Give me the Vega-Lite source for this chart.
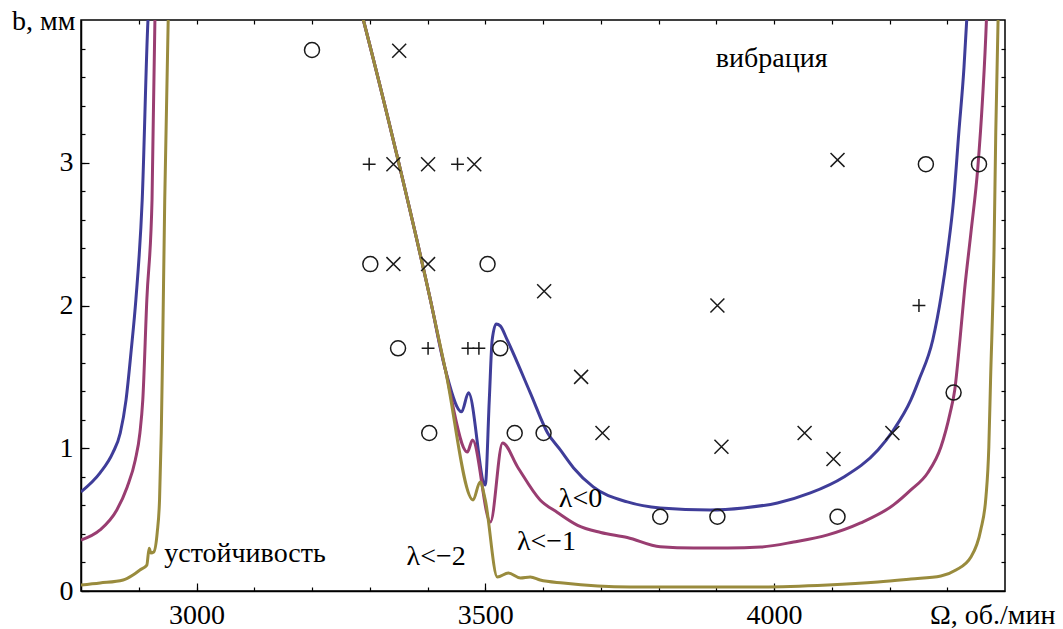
{
  "$schema": "https://vega.github.io/schema/vega-lite/v6.json",
  "width": 924,
  "height": 571,
  "autosize": {"type": "none"},
  "padding": {"left": 81, "top": 20, "right": 58, "bottom": 38},
  "background": "white",
  "config": {
    "view": {"stroke": "black", "strokeWidth": 1.5},
    "font": "Liberation Serif",
    "axis": {
      "grid": false,
      "domainColor": "black",
      "domainWidth": 1.5,
      "tickColor": "black",
      "tickWidth": 1.2,
      "labelColor": "black",
      "titleColor": "black",
      "labelFont": "Liberation Serif",
      "titleFont": "Liberation Serif",
      "labelFontSize": 28,
      "titleFontSize": 28,
      "titleFontWeight": "normal",
      "labelOverlap": false,
      "labelFlush": false
    }
  },
  "datasets": {
    "curves": [
      {"s": "b", "g": "bL", "x": 2800, "y": 0.694},
      {"s": "b", "g": "bL", "x": 2833, "y": 0.827},
      {"s": "b", "g": "bL", "x": 2855, "y": 0.967},
      {"s": "b", "g": "bL", "x": 2868, "y": 1.107},
      {"s": "b", "g": "bL", "x": 2878, "y": 1.339},
      {"s": "b", "g": "bL", "x": 2887, "y": 1.689},
      {"s": "b", "g": "bL", "x": 2895, "y": 2.04},
      {"s": "b", "g": "bL", "x": 2906, "y": 2.741},
      {"s": "b", "g": "bL", "x": 2916, "y": 4.0},
      {"s": "b", "g": "bL", "x": 2918, "y": 4.14},

      {"s": "b", "g": "bM", "x": 3280, "y": 4.14},
      {"s": "b", "g": "bM", "x": 3289, "y": 4.0},
      {"s": "b", "g": "bM", "x": 3349, "y": 3.02},
      {"s": "b", "g": "bM", "x": 3405, "y": 2.04},
      {"s": "b", "g": "bM", "x": 3431, "y": 1.549},
      {"s": "b", "g": "bM", "x": 3459, "y": 1.255},
      {"s": "b", "g": "bM", "x": 3471, "y": 1.388},
      {"s": "b", "g": "bM", "x": 3500, "y": 0.743},
      {"s": "b", "g": "bM", "x": 3507, "y": 1.339},
      {"s": "b", "g": "bM", "x": 3512, "y": 1.759},
      {"s": "b", "g": "bM", "x": 3519, "y": 1.871},
      {"s": "b", "g": "bM", "x": 3526, "y": 1.857},
      {"s": "b", "g": "bM", "x": 3538, "y": 1.759},
      {"s": "b", "g": "bM", "x": 3578, "y": 1.388},
      {"s": "b", "g": "bM", "x": 3608, "y": 1.107},
      {"s": "b", "g": "bM", "x": 3630, "y": 0.988},
      {"s": "b", "g": "bM", "x": 3653, "y": 0.862},
      {"s": "b", "g": "bM", "x": 3687, "y": 0.729},
      {"s": "b", "g": "bM", "x": 3746, "y": 0.624},
      {"s": "b", "g": "bM", "x": 3803, "y": 0.582},
      {"s": "b", "g": "bM", "x": 3890, "y": 0.568},
      {"s": "b", "g": "bM", "x": 3947, "y": 0.582},
      {"s": "b", "g": "bM", "x": 4006, "y": 0.617},
      {"s": "b", "g": "bM", "x": 4063, "y": 0.687},
      {"s": "b", "g": "bM", "x": 4121, "y": 0.799},
      {"s": "b", "g": "bM", "x": 4180, "y": 0.988},
      {"s": "b", "g": "bM", "x": 4207, "y": 1.128},
      {"s": "b", "g": "bM", "x": 4237, "y": 1.339},
      {"s": "b", "g": "bM", "x": 4251, "y": 1.479},
      {"s": "b", "g": "bM", "x": 4275, "y": 1.76},
      {"s": "b", "g": "bM", "x": 4290, "y": 2.08},
      {"s": "b", "g": "bM", "x": 4301, "y": 2.39},
      {"s": "b", "g": "bM", "x": 4311, "y": 2.74},
      {"s": "b", "g": "bM", "x": 4320, "y": 3.21},
      {"s": "b", "g": "bM", "x": 4329, "y": 3.67},
      {"s": "b", "g": "bM", "x": 4334, "y": 4.02},
      {"s": "b", "g": "bM", "x": 4336, "y": 4.14},

      {"s": "m", "g": "mL", "x": 2800, "y": 0.357},
      {"s": "m", "g": "mL", "x": 2833, "y": 0.428},
      {"s": "m", "g": "mL", "x": 2862, "y": 0.568},
      {"s": "m", "g": "mL", "x": 2880, "y": 0.729},
      {"s": "m", "g": "mL", "x": 2894, "y": 0.918},
      {"s": "m", "g": "mL", "x": 2902, "y": 1.107},
      {"s": "m", "g": "mL", "x": 2907, "y": 1.339},
      {"s": "m", "g": "mL", "x": 2914, "y": 2.04},
      {"s": "m", "g": "mL", "x": 2923, "y": 2.741},
      {"s": "m", "g": "mL", "x": 2928, "y": 4.0},
      {"s": "m", "g": "mL", "x": 2930, "y": 4.14},

      {"s": "m", "g": "mM", "x": 3280, "y": 4.14},
      {"s": "m", "g": "mM", "x": 3289, "y": 4.0},
      {"s": "m", "g": "mM", "x": 3349, "y": 3.02},
      {"s": "m", "g": "mM", "x": 3405, "y": 2.04},
      {"s": "m", "g": "mM", "x": 3431, "y": 1.549},
      {"s": "m", "g": "mM", "x": 3469, "y": 0.974},
      {"s": "m", "g": "mM", "x": 3478, "y": 1.058},
      {"s": "m", "g": "mM", "x": 3509, "y": 0.484},
      {"s": "m", "g": "mM", "x": 3530, "y": 1.037},
      {"s": "m", "g": "mM", "x": 3556, "y": 0.869},
      {"s": "m", "g": "mM", "x": 3595, "y": 0.638},
      {"s": "m", "g": "mM", "x": 3625, "y": 0.55},
      {"s": "m", "g": "mM", "x": 3660, "y": 0.46},
      {"s": "m", "g": "mM", "x": 3700, "y": 0.41},
      {"s": "m", "g": "mM", "x": 3746, "y": 0.375},
      {"s": "m", "g": "mM", "x": 3803, "y": 0.31},
      {"s": "m", "g": "mM", "x": 3861, "y": 0.301},
      {"s": "m", "g": "mM", "x": 3920, "y": 0.301},
      {"s": "m", "g": "mM", "x": 3977, "y": 0.308},
      {"s": "m", "g": "mM", "x": 4034, "y": 0.343},
      {"s": "m", "g": "mM", "x": 4093, "y": 0.393},
      {"s": "m", "g": "mM", "x": 4150, "y": 0.477},
      {"s": "m", "g": "mM", "x": 4207, "y": 0.603},
      {"s": "m", "g": "mM", "x": 4237, "y": 0.708},
      {"s": "m", "g": "mM", "x": 4266, "y": 0.827},
      {"s": "m", "g": "mM", "x": 4289, "y": 1.009},
      {"s": "m", "g": "mM", "x": 4305, "y": 1.248},
      {"s": "m", "g": "mM", "x": 4313, "y": 1.409},
      {"s": "m", "g": "mM", "x": 4322, "y": 1.76},
      {"s": "m", "g": "mM", "x": 4330, "y": 2.11},
      {"s": "m", "g": "mM", "x": 4341, "y": 2.51},
      {"s": "m", "g": "mM", "x": 4353, "y": 2.97},
      {"s": "m", "g": "mM", "x": 4361, "y": 3.44},
      {"s": "m", "g": "mM", "x": 4368, "y": 4.02},
      {"s": "m", "g": "mM", "x": 4369, "y": 4.14},

      {"s": "o", "g": "oL", "x": 2800, "y": 0.042},
      {"s": "o", "g": "oL", "x": 2833, "y": 0.056},
      {"s": "o", "g": "oL", "x": 2873, "y": 0.077},
      {"s": "o", "g": "oL", "x": 2890, "y": 0.112},
      {"s": "o", "g": "oL", "x": 2902, "y": 0.147},
      {"s": "o", "g": "oL", "x": 2914, "y": 0.182},
      {"s": "o", "g": "oL", "x": 2918, "y": 0.3},
      {"s": "o", "g": "oL", "x": 2921, "y": 0.266},
      {"s": "o", "g": "oL", "x": 2926, "y": 0.273},
      {"s": "o", "g": "oL", "x": 2932, "y": 0.41},
      {"s": "o", "g": "oL", "x": 2936, "y": 0.64},
      {"s": "o", "g": "oL", "x": 2939, "y": 1.107},
      {"s": "o", "g": "oL", "x": 2941, "y": 1.6},
      {"s": "o", "g": "oL", "x": 2945, "y": 2.74},
      {"s": "o", "g": "oL", "x": 2951, "y": 4.0},
      {"s": "o", "g": "oL", "x": 2952, "y": 4.14},

      {"s": "o", "g": "oM", "x": 3280, "y": 4.14},
      {"s": "o", "g": "oM", "x": 3289, "y": 4.0},
      {"s": "o", "g": "oM", "x": 3349, "y": 3.02},
      {"s": "o", "g": "oM", "x": 3405, "y": 2.04},
      {"s": "o", "g": "oM", "x": 3431, "y": 1.549},
      {"s": "o", "g": "oM", "x": 3479, "y": 0.638},
      {"s": "o", "g": "oM", "x": 3491, "y": 0.764},
      {"s": "o", "g": "oM", "x": 3500, "y": 0.638},
      {"s": "o", "g": "oM", "x": 3521, "y": 0.098},
      {"s": "o", "g": "oM", "x": 3540, "y": 0.126},
      {"s": "o", "g": "oM", "x": 3561, "y": 0.091},
      {"s": "o", "g": "oM", "x": 3578, "y": 0.098},
      {"s": "o", "g": "oM", "x": 3595, "y": 0.077},
      {"s": "o", "g": "oM", "x": 3635, "y": 0.056},
      {"s": "o", "g": "oM", "x": 3751, "y": 0.028},
      {"s": "o", "g": "oM", "x": 3861, "y": 0.028},
      {"s": "o", "g": "oM", "x": 3977, "y": 0.028},
      {"s": "o", "g": "oM", "x": 4093, "y": 0.042},
      {"s": "o", "g": "oM", "x": 4180, "y": 0.063},
      {"s": "o", "g": "oM", "x": 4237, "y": 0.084},
      {"s": "o", "g": "oM", "x": 4289, "y": 0.105},
      {"s": "o", "g": "oM", "x": 4315, "y": 0.147},
      {"s": "o", "g": "oM", "x": 4341, "y": 0.238},
      {"s": "o", "g": "oM", "x": 4358, "y": 0.428},
      {"s": "o", "g": "oM", "x": 4367, "y": 0.659},
      {"s": "o", "g": "oM", "x": 4372, "y": 1.009},
      {"s": "o", "g": "oM", "x": 4375, "y": 1.479},
      {"s": "o", "g": "oM", "x": 4381, "y": 2.39},
      {"s": "o", "g": "oM", "x": 4384, "y": 3.21},
      {"s": "o", "g": "oM", "x": 4388, "y": 4.0},
      {"s": "o", "g": "oM", "x": 4389, "y": 4.14}
    ],
    "points": [
      {"m": "o", "x": 3200, "y": 3.79},
      {"m": "o", "x": 3301, "y": 2.29},
      {"m": "o", "x": 3504, "y": 2.29},
      {"m": "o", "x": 3349, "y": 1.7},
      {"m": "o", "x": 3526, "y": 1.7},
      {"m": "o", "x": 3403, "y": 1.107},
      {"m": "o", "x": 3551, "y": 1.107},
      {"m": "o", "x": 3601, "y": 1.107},
      {"m": "o", "x": 3803, "y": 0.52},
      {"m": "o", "x": 3902, "y": 0.52},
      {"m": "o", "x": 4110, "y": 0.52},
      {"m": "o", "x": 4263, "y": 2.99},
      {"m": "o", "x": 4355, "y": 2.99},
      {"m": "o", "x": 4311, "y": 1.39},
      {"m": "x", "x": 3351, "y": 3.785},
      {"m": "x", "x": 3341, "y": 2.99},
      {"m": "x", "x": 3401, "y": 2.99},
      {"m": "x", "x": 3481, "y": 2.99},
      {"m": "x", "x": 3341, "y": 2.29},
      {"m": "x", "x": 3401, "y": 2.29},
      {"m": "x", "x": 3602, "y": 2.1},
      {"m": "x", "x": 3666, "y": 1.5},
      {"m": "x", "x": 3703, "y": 1.107},
      {"m": "x", "x": 3902, "y": 2.0},
      {"m": "x", "x": 3909, "y": 1.01},
      {"m": "x", "x": 4053, "y": 1.107},
      {"m": "x", "x": 4103, "y": 0.925},
      {"m": "x", "x": 4205, "y": 1.107},
      {"m": "x", "x": 4110, "y": 3.02},
      {"m": "p", "x": 3299, "y": 2.99},
      {"m": "p", "x": 3452, "y": 2.99},
      {"m": "p", "x": 3401, "y": 1.7},
      {"m": "p", "x": 3470, "y": 1.7},
      {"m": "p", "x": 3489, "y": 1.7},
      {"m": "p", "x": 4251, "y": 2.0}
    ],
    "labels": [
      {"t": "вибрация", "x": 3996, "y": 3.673},
      {"t": "устойчивость", "x": 3084, "y": 0.203},
      {"t": "λ<−2", "x": 3415, "y": 0.182},
      {"t": "λ<−1", "x": 3606, "y": 0.287},
      {"t": "λ<0", "x": 3665, "y": 0.589}
    ]
  },
  "layer": [
    {
      "data": {"name": "curves"},
      "mark": {"type": "line", "strokeWidth": 3, "clip": true, "interpolate": "monotone"},
      "encoding": {
        "x": {
          "field": "x", "type": "quantitative",
          "scale": {"domain": [2800, 4400], "nice": false, "zero": false},
          "axis": {
            "orient": "bottom", "values": [3000, 3500, 4000], "format": "d",
            "tickSize": -8, "labelPadding": 40, "labelBaseline": "alphabetic",
            "labelFont": "Liberation Serif", "titleFont": "Liberation Serif",
            "title": "Ω, об./мин", "titleX": 974, "titleY": 32,
            "titleAlign": "right", "titleBaseline": "alphabetic"
          }
        },
        "y": {
          "field": "y", "type": "quantitative",
          "scale": {"domain": [0, 4], "nice": false, "zero": false},
          "axis": {
            "orient": "left", "values": [0, 1, 2, 3], "format": "d",
            "tickSize": -8, "labelPadding": 16,
            "labelFont": "Liberation Serif", "titleFont": "Liberation Serif",
            "title": "b, мм", "titleAngle": 0, "titleX": -6, "titleY": 9,
            "titleAlign": "right", "titleBaseline": "alphabetic"
          }
        },
        "color": {
          "field": "s", "type": "nominal",
          "scale": {"domain": ["b", "m", "o"], "range": ["#3f3d99", "#993d71", "#998b3d"]},
          "legend": null
        },
        "detail": {"field": "g"}
      }
    },
    {
      "data": {"name": "points"},
      "mark": {"type": "point", "filled": false, "strokeWidth": 1.5, "color": "#1a1a1a", "opacity": 1},
      "encoding": {
        "x": {
          "field": "x", "type": "quantitative",
          "scale": {"domain": [2800, 4400], "nice": false, "zero": false},
          "axis": {
            "orient": "bottom",
            "values": [2900, 3000, 3100, 3200, 3300, 3400, 3500, 3600, 3700, 3800, 3900, 4000, 4100, 4200, 4300],
            "tickSize": -4, "labels": false, "domain": false, "title": null
          }
        },
        "y": {
          "field": "y", "type": "quantitative",
          "scale": {"domain": [0, 4], "nice": false, "zero": false},
          "axis": {
            "orient": "left",
            "values": [0.2, 0.4, 0.6, 0.8, 1, 1.2, 1.4, 1.6, 1.8, 2, 2.2, 2.4, 2.6, 2.8, 3, 3.2, 3.4, 3.6, 3.8],
            "tickSize": -4, "labels": false, "domain": false, "title": null
          }
        },
        "shape": {
          "field": "m", "type": "nominal",
          "scale": {"domain": ["o", "x", "p"], "range": ["circle", "M-1,-1L1,1M-1,1L1,-1", "M-1,0L1,0M0,-1L0,1"]},
          "legend": null
        },
        "size": {
          "field": "m", "type": "nominal",
          "scale": {"domain": ["o", "x", "p"], "range": [225, 165, 220]},
          "legend": null
        }
      }
    },
    {
      "data": {"name": "labels"},
      "mark": {"type": "text", "fontSize": 28, "font": "Liberation Serif", "align": "center", "baseline": "alphabetic", "color": "black"},
      "encoding": {
        "x": {
          "field": "x", "type": "quantitative",
          "scale": {"domain": [2800, 4400], "nice": false, "zero": false},
          "axis": {
            "orient": "top",
            "values": [2900, 3000, 3100, 3200, 3300, 3400, 3500, 3600, 3700, 3800, 3900, 4000, 4100, 4200, 4300],
            "tickSize": -4, "labels": false, "domain": false, "title": null
          }
        },
        "y": {
          "field": "y", "type": "quantitative",
          "scale": {"domain": [0, 4], "nice": false, "zero": false},
          "axis": {
            "orient": "right",
            "values": [0.2, 0.4, 0.6, 0.8, 1, 1.2, 1.4, 1.6, 1.8, 2, 2.2, 2.4, 2.6, 2.8, 3, 3.2, 3.4, 3.6, 3.8],
            "tickSize": -4, "labels": false, "domain": false, "title": null
          }
        },
        "text": {"field": "t"}
      }
    }
  ],
  "resolve": {"axis": {"x": "independent", "y": "independent"}}
}
